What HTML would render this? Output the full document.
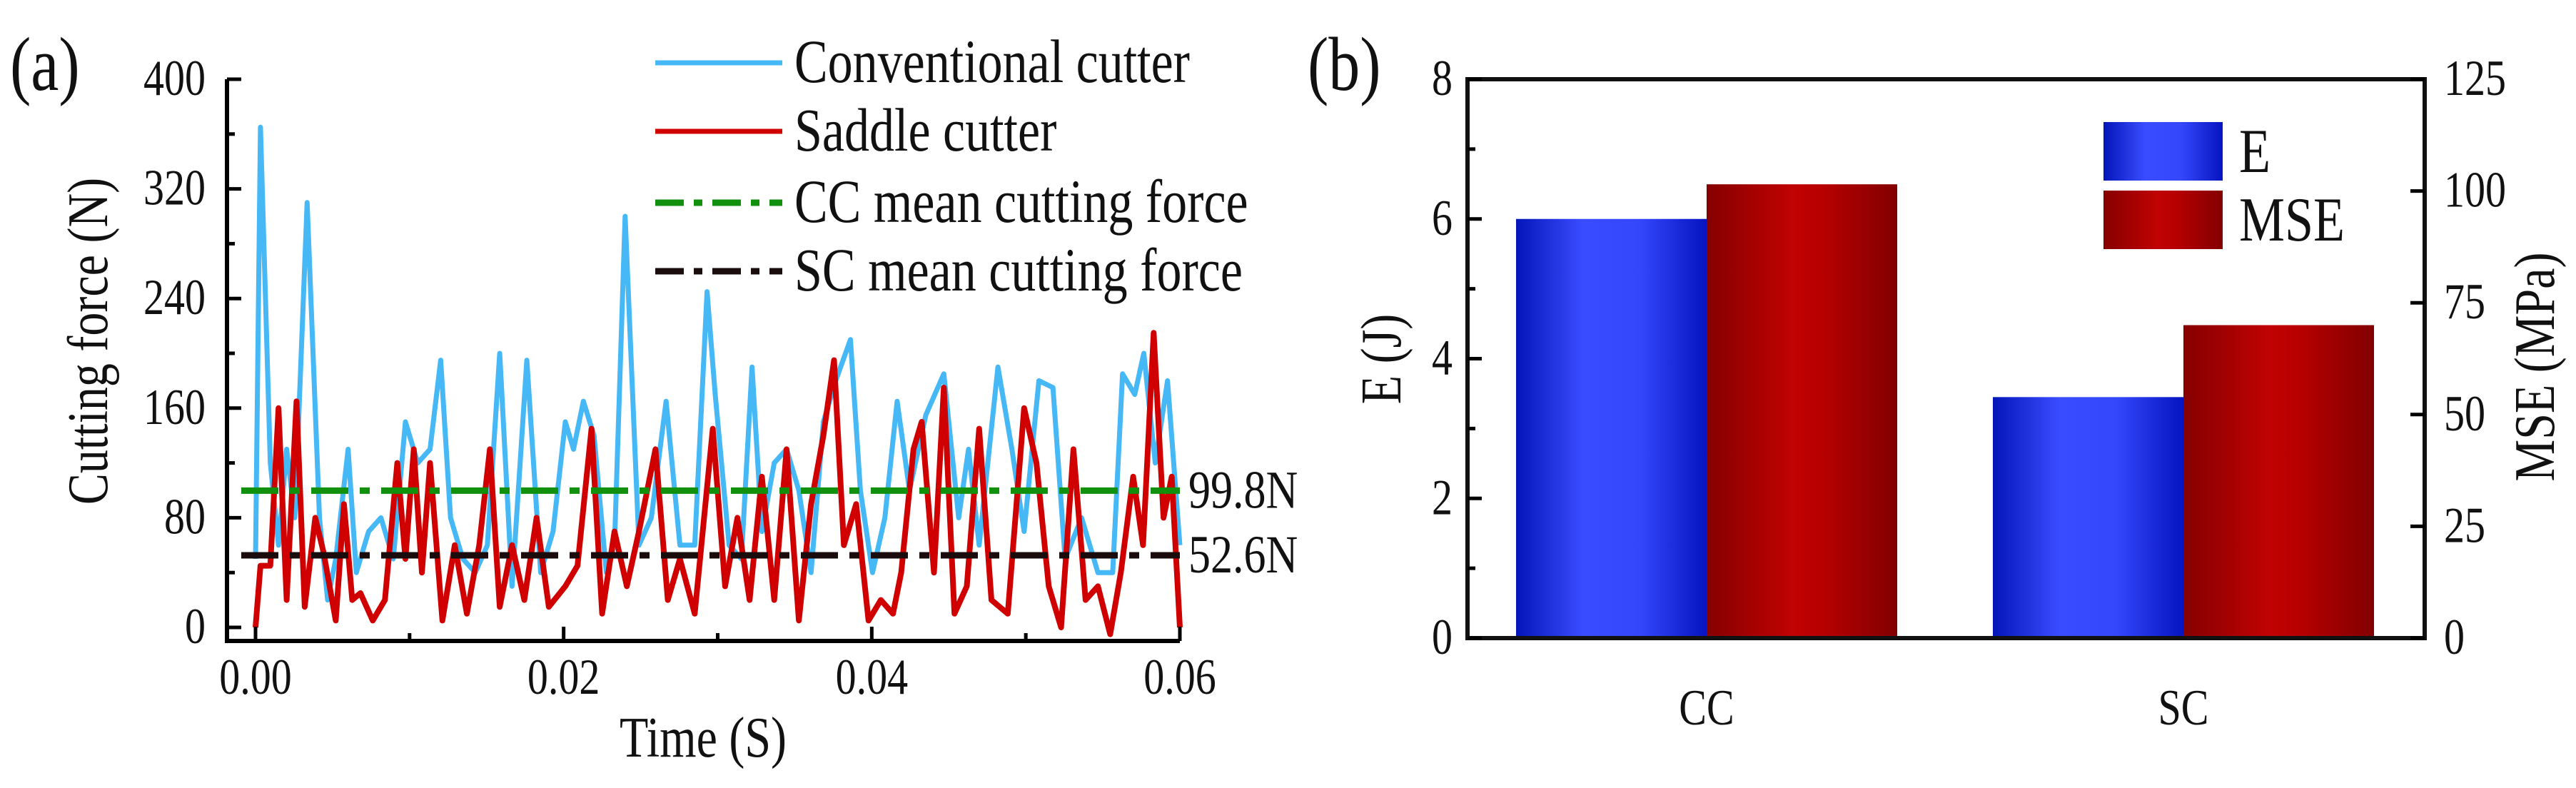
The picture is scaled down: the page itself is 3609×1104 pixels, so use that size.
<!DOCTYPE html>
<html><head><meta charset="utf-8"><style>
html,body{margin:0;padding:0;background:#fff;}
svg{display:block;font-family:"Liberation Serif",serif;}
</style></head><body>
<svg id="fig" width="3609" height="1104" viewBox="0 0 3609 1104" xmlns="http://www.w3.org/2000/svg">
<defs>
<linearGradient id="gBlue" x1="0" x2="1" y1="0" y2="0">
<stop offset="0" stop-color="#0416b8"/><stop offset="0.35" stop-color="#3a4cff"/><stop offset="0.65" stop-color="#3447fb"/><stop offset="1" stop-color="#0614c0"/></linearGradient>
<linearGradient id="gRed" x1="0" x2="1" y1="0" y2="0">
<stop offset="0" stop-color="#860000"/><stop offset="0.45" stop-color="#c00202"/><stop offset="0.6" stop-color="#b80000"/><stop offset="1" stop-color="#820000"/></linearGradient>
</defs>
<g id="pa"></g>
<g id="pb"></g>
</svg>
<script>
// ---- Panel (a) data ----
const ccTimesMs=[0,0.32,0.96,1.49,2.02,2.55,3.35,4.15,4.68,5.21,6.01,6.54,7.34,8.14,8.94,9.73,10.53,11.33,12.02,12.66,13.46,14.26,15.05,15.85,16.65,17.61,18.51,19.31,20.11,20.64,21.28,21.97,22.77,23.30,23.99,24.89,25.69,26.65,27.55,28.51,29.31,29.84,30.74,31.54,32.23,32.87,33.67,34.47,35.27,36.06,36.86,37.66,38.62,39.26,40.05,40.85,41.65,42.45,43.51,44.68,45.64,46.28,46.97,48.19,49.10,49.89,50.85,51.76,52.55,53.62,54.68,55.64,56.28,57.07,57.66,58.40,59.20,60];
const ccForce=[50,365,120,60,130,80,310,80,20,50,130,40,70,80,50,150,120,130,195,80,50,40,60,200,30,195,40,70,150,130,165,140,40,60,300,60,80,165,60,60,245,170,60,50,190,70,120,130,100,40,150,180,210,100,40,80,165,100,155,185,80,130,60,190,130,70,180,175,50,80,40,40,185,170,200,120,180,60];
const scTimesMs=[0,0.32,0.96,1.49,2.02,2.66,3.19,3.88,4.41,5.21,5.74,6.28,6.81,7.61,8.40,9.20,9.73,10.27,10.80,11.33,12.13,12.93,13.72,14.52,15.21,15.85,16.65,17.45,18.24,19.04,20.11,20.90,21.81,22.50,23.30,24.10,24.89,25.96,26.76,27.55,28.51,29.68,30.48,31.28,32.07,32.87,33.67,34.47,35.27,36.06,36.86,37.55,38.19,38.99,39.79,40.59,41.38,41.91,42.71,43.24,44.04,44.68,45.37,46.17,46.97,47.77,48.83,49.89,50.69,51.49,52.29,53.09,53.88,54.68,55.48,56.17,56.97,57.61,58.30,58.94,59.47,60];
const scForce=[0,45,45,160,20,165,15,80,55,5,90,20,25,5,20,120,50,130,40,120,5,60,10,60,130,15,60,20,80,15,30,45,145,10,70,30,70,130,20,50,10,145,30,80,20,110,20,130,5,90,140,195,60,90,5,20,10,40,130,150,40,175,10,30,145,20,10,160,120,30,0,130,20,30,-5,40,110,60,215,80,110,0];
const meanValues=[99.8,52.6];
const meanLabels=["99.8N","52.6N"];
const aYTicks=[0,80,160,240,320,400];
const aXTicks=[0,0.02,0.04,0.06];
const aXTickLabels=["0.00","0.02","0.04","0.06"];
// ---- Panel (b) data ----
const categories=["CC","SC"];
const energyJ=[6.0,3.45];
const mseMPa=[101.5,70];
const bLeftTicks=[0,2,4,6,8];
const bRightTicks=[0,25,50,75,100,125];

const NS="http://www.w3.org/2000/svg";
function mk(parent,tag,attrs,text){const e=document.createElementNS(NS,tag);for(const k in attrs)e.setAttribute(k,attrs[k]);if(text!==undefined)e.textContent=text;parent.appendChild(e);return e;}

// ---------- Panel a ----------
const pa=document.getElementById('pa');
const ax={x0:358,x1:1653,y0:879,y1:111,left:318,bottom:898};
const xa=t=>ax.x0+(t/0.06)*(ax.x1-ax.x0);
const ya=v=>ax.y0-(v/400)*(ax.y0-ax.y1);

function poly(times,vals){return times.map((t,i)=>xa(t/1000).toFixed(1)+","+ya(vals[i]).toFixed(1)).join(" ");}
let l1=mk(pa,'polyline',{points:poly(ccTimesMs,ccForce),fill:'none',stroke:'#45b8f5','stroke-width':7,'stroke-linejoin':'round'});


let l2=mk(pa,'polyline',{points:poly(scTimesMs,scForce),fill:'none',stroke:'#d00000','stroke-width':8,'stroke-linejoin':'round'});



const meanColors=['#10900c','#1a0c0c'];
meanValues.forEach((m,i)=>{
  let ln=mk(pa,'line',{x1:ax.left+20,x2:ax.x1,y1:ya(m),y2:ya(m),stroke:meanColors[i],'stroke-width':9,'stroke-dasharray':'52 16 14 16'});
  
  
  let tx=mk(pa,'text',{x:1665,y:ya(m)+24,'font-size':62,fill:'#111'},meanLabels[i]);
  
  
});

let sp=mk(pa,'path',{d:`M${ax.left},${ax.y1} V${ax.bottom} H${ax.x1}`,fill:'none',stroke:'#000','stroke-width':6});


aYTicks.forEach(v=>{
  mk(pa,'line',{x1:ax.left,x2:ax.left+20,y1:ya(v),y2:ya(v),stroke:'#000','stroke-width':5});
  let t=mk(pa,'text',{x:ax.left-30,y:ya(v)+22,'text-anchor':'end','font-size':58,fill:'#111'},String(v));
  
  
});
for(let v=40;v<400;v+=80){mk(pa,'line',{x1:ax.left,x2:ax.left+11,y1:ya(v),y2:ya(v),stroke:'#000','stroke-width':5});}
aXTicks.forEach((v,i)=>{
  mk(pa,'line',{x1:xa(v),x2:xa(v),y1:ax.bottom,y2:ax.bottom-20,stroke:'#000','stroke-width':5});
  let t=mk(pa,'text',{x:xa(v),y:972,'text-anchor':'middle','font-size':58,fill:'#111'},aXTickLabels[i]);
  
  
});
for(let v=0.01;v<0.06;v+=0.02){mk(pa,'line',{x1:xa(v),x2:xa(v),y1:ax.bottom,y2:ax.bottom-11,stroke:'#000','stroke-width':5});}
let xt=mk(pa,'text',{x:985,y:1060,'text-anchor':'middle','font-size':66,fill:'#111'},'Time (S)');


let yt=mk(pa,'text',{x:0,y:0,transform:'translate(150,478) rotate(-90)','text-anchor':'middle','font-size':66,fill:'#111'},'Cutting force (N)');


let la=mk(pa,'text',{x:14,y:126,'font-size':88,fill:'#111'},'(a)');



const legItems=[['Conventional cutter','#45b8f5',null,88],['Saddle cutter','#d00000',null,184],['CC mean cutting force','#10900c','40 14 12 14',284],['SC mean cutting force','#1a0c0c','40 14 12 14',380]];
legItems.forEach(([lab,col,dash,y],i)=>{
  const g=mk(pa,'g',{});
  
  
  const a={x1:918,x2:1096,y1:y,y2:y,stroke:col,'stroke-width':dash?9:7};
  if(dash)a['stroke-dasharray']=dash;
  mk(g,'line',a);
  mk(g,'text',{x:1113,y:y+27,'font-size':70,fill:'#111'},lab);
});

// ---------- Panel b ----------
const pb=document.getElementById('pb');
const bx={l:2056,r:3397,t:111,b:894};
const yl=v=>bx.b-(v/8)*(bx.b-bx.t);
const yr=v=>bx.b-(v/125)*(bx.b-bx.t);
const catCenters=[2391,3059];
const barW=267;
categories.forEach((c,i)=>{
  const cx=catCenters[i];
  let b1=mk(pb,'rect',{x:cx-barW,y:yl(energyJ[i]),width:barW,height:bx.b-yl(energyJ[i]),fill:'url(#gBlue)'});
  
  
  let b2=mk(pb,'rect',{x:cx,y:yr(mseMPa[i]),width:barW,height:bx.b-yr(mseMPa[i]),fill:'url(#gRed)'});
  
  
  let t=mk(pb,'text',{x:cx,y:1015,'text-anchor':'middle','font-size':58,fill:'#111'},c);
  
  
});
let fr=mk(pb,'rect',{x:bx.l,y:bx.t,width:bx.r-bx.l,height:bx.b-bx.t,fill:'none',stroke:'#111','stroke-width':6});


bLeftTicks.forEach(v=>{
  mk(pb,'line',{x1:bx.l,x2:bx.l+20,y1:yl(v),y2:yl(v),stroke:'#000','stroke-width':5});
  let t=mk(pb,'text',{x:2035,y:yl(v)+22,'text-anchor':'end','font-size':58,fill:'#111'},String(v));
  
  
});
for(let v=1;v<8;v+=2)mk(pb,'line',{x1:bx.l,x2:bx.l+11,y1:yl(v),y2:yl(v),stroke:'#000','stroke-width':5});
bRightTicks.forEach(v=>{
  mk(pb,'line',{x1:bx.r,x2:bx.r-20,y1:yr(v),y2:yr(v),stroke:'#000','stroke-width':5});
  let t=mk(pb,'text',{x:3424,y:yr(v)+22,'font-size':58,fill:'#111'},String(v));
  
  
});
let ylt=mk(pb,'text',{x:0,y:0,transform:'translate(1962,503) rotate(-90)','text-anchor':'middle','font-size':66,fill:'#111'},'E (J)');


let yrt=mk(pb,'text',{x:0,y:0,transform:'translate(3578,514) rotate(-90)','text-anchor':'middle','font-size':66,fill:'#111'},'MSE (MPa)');


let lb=mk(pb,'text',{x:1832,y:126,'font-size':88,fill:'#111'},'(b)');


[['E','url(#gBlue)',171],['MSE','url(#gRed)',267]].forEach(([lab,f,y])=>{
  const g=mk(pb,'g',{});
  
  
  mk(g,'rect',{x:2947,y:y,width:167,height:82,fill:f});
  mk(g,'text',{x:3137,y:y+70,'font-size':72,fill:'#111'},lab);
});

// make glyphs taller/condensed like the reference while keeping widths
document.querySelectorAll('#fig text').forEach(t=>{
  const w=t.getComputedTextLength();
  const fs=parseFloat(t.getAttribute('font-size'));
  t.setAttribute('font-size',(fs*1.22).toFixed(1));
  t.setAttribute('textLength',w.toFixed(1));
  t.setAttribute('lengthAdjust','spacingAndGlyphs');
});
</script>
</body></html>
